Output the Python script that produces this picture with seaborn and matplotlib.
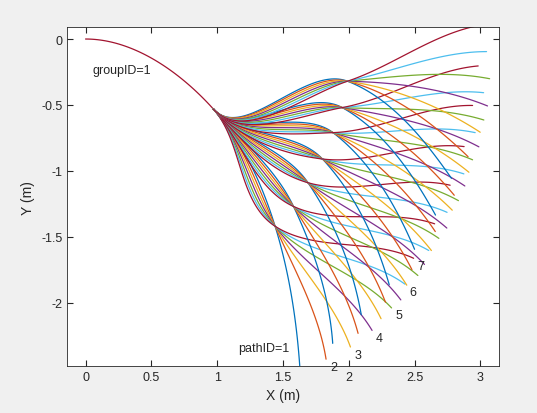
import numpy as np
import pandas as pd
import matplotlib
matplotlib.use("Agg")
import matplotlib.pyplot as plt
import seaborn as sns

# ── data ────────────────────────────────────────────────────
start_pt = (0.0, 0.0)
branch_pt = (0.97, -0.53)        # where all paths split
branch_heading = -48.0           # deg
node_x = [1.44, 1.58, 1.69, 1.80, 1.88, 1.95, 1.99]
node_y = [-1.42, -1.27, -1.09, -0.91, -0.71, -0.52, -0.32]
# end-point angle (deg, around each node) for paths 1..7 of every group
end_angles = [
    [-80, -69, -58, -47, -35, -24, -13],
    [-74, -63, -52, -41, -29, -18, -7],
    [-68, -57, -46, -35, -23, -12, -1],
    [-62, -51, -40, -29, -17, -6, 5],
    [-55, -44, -33, -22, -11, 0, 11],
    [-49, -38, -27, -16, -5, 6, 17],
    [-43, -32, -21, -10, 1, 12, 23],
]
end_radius = 1.08
path_labels = ["pathID=1", "2", "3", "4", "5", "6", "7"]
colors = ["#0072BD", "#D95319", "#EDB120", "#7E2F8E", "#77AC30", "#4DBEEE", "#A2142F"]


def hermite(p0, p1, h0, h1, n=60):
    t = np.linspace(0, 1, n)[:, None]
    p0, p1 = np.array(p0), np.array(p1)
    L = np.linalg.norm(p1 - p0)
    m0 = L * np.array([np.cos(np.radians(h0)), np.sin(np.radians(h0))])
    m1 = L * np.array([np.cos(np.radians(h1)), np.sin(np.radians(h1))])
    pts = ((2*t**3 - 3*t**2 + 1) * p0 + (t**3 - 2*t**2 + t) * m0
           + (-2*t**3 + 3*t**2) * p1 + (t**3 - t**2) * m1)
    return pts


rows = []
lead = hermite(start_pt, branch_pt, 0, branch_heading)
for x, y in lead:
    rows.append(("lead", x, y, 6))
ends = []
for g in range(7):
    node = (node_x[g], node_y[g])
    in_chord = np.degrees(np.arctan2(node[1] - branch_pt[1], node[0] - branch_pt[0]))
    for p in range(7):
        a = end_angles[g][p]
        end = (node[0] + end_radius*np.cos(np.radians(a)),
               node[1] + end_radius*np.sin(np.radians(a)))
        h_node = 0.4*in_chord + 0.6*a
        h_end = max(a - 12, -86)
        seg = np.vstack([hermite(branch_pt, node, branch_heading, h_node),
                         hermite(node, end, h_node, h_end)[1:]])
        key = f"g{g}p{p}"
        for x, y in seg:
            rows.append((key, x, y, p))
        if g == 0:
            ends.append(end)
df = pd.DataFrame(rows, columns=["path", "x", "y", "color"])

# ── plot ─────────────────────────────────────────────────────
sns.set_style("white")
plt.rcParams["font.family"] = ["Liberation Sans", "DejaVu Sans"]
fig = plt.figure(figsize=(5.37, 4.14), dpi=100, facecolor="#f0f0f0")
ax = fig.add_axes([0.125, 0.1135, 0.804, 0.8185])
for key, sub in df.groupby("path", sort=False):
    sns.lineplot(data=sub, x="x", y="y", sort=False, ax=ax,
                 color=colors[sub["color"].iloc[0]], linewidth=0.9, legend=False)

ax.text(0.05, -0.26, "groupID=1", fontsize=9)
for i, (ex, ey) in enumerate(ends):
    if i == 0:
        ax.text(ex - 0.08, ey + 0.12, path_labels[i], fontsize=9, ha="right")
    else:
        ax.text(ex + 0.03, ey - 0.08, path_labels[i], fontsize=9, ha="left")

ax.set_xlim(-0.14, 3.14)
ax.set_ylim(-2.48, 0.09)
ax.set_xticks([0, 0.5, 1, 1.5, 2, 2.5, 3])
ax.set_xticklabels(["0", "0.5", "1", "1.5", "2", "2.5", "3"])
ax.set_yticks([0, -0.5, -1, -1.5, -2])
ax.set_yticklabels(["0", "-0.5", "-1", "-1.5", "-2"])
ax.set_xlabel("X (m)", fontsize=10)
ax.set_ylabel("Y (m)", fontsize=10)
ax.tick_params(direction="in", length=4, top=True, right=True, labelsize=9,
               bottom=True, left=True, color="#262626")
for s in ax.spines.values():
    s.set_color("#262626")
    s.set_linewidth(0.6)
fig.savefig("out.png", dpi=100, facecolor="#f0f0f0")
